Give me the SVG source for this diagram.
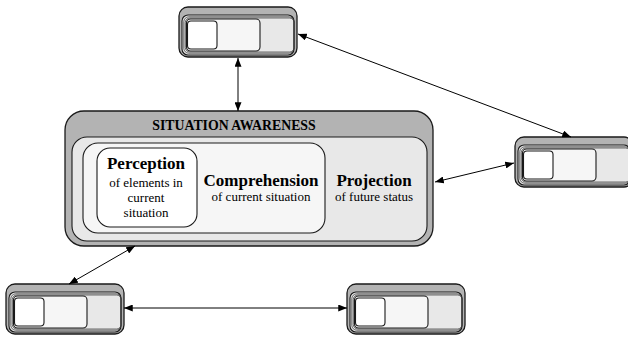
<svg xmlns="http://www.w3.org/2000/svg" width="628" height="338" viewBox="0 0 628 338">
<style>
.o{fill:#b3b3b3;stroke:#1a1a1a;stroke-width:1.3}
.g{fill:#e8e8e8;stroke:#1a1a1a;stroke-width:1.1}
.l{fill:#f6f6f6;stroke:#1a1a1a;stroke-width:1.1}
.w{fill:#ffffff;stroke:#1a1a1a;stroke-width:1.1}
.n{fill:none;stroke:#333;stroke-width:0.7}
.c line{stroke:#000;stroke-width:1}
text{font-family:"Liberation Serif","Times New Roman",serif;fill:#000;text-anchor:middle}
.b{font-weight:bold;font-size:17px}
.s{font-size:13px}
</style>
<defs>
<marker id="a" viewBox="0 0 10 8" refX="10" refY="4" markerWidth="9" markerHeight="7" markerUnits="userSpaceOnUse" orient="auto-start-reverse">
<path d="M0,0L10,4L0,8z" fill="#000"/>
</marker>
<g id="dev">
<rect class="o" x="0" y="0" width="118" height="50" rx="9"/>
<rect class="g" x="3" y="8" width="112" height="40" rx="6"/>
<rect class="n" x="4.8" y="9.8" width="110.2" height="36.4" rx="5"/>
<rect class="n" x="6.3" y="11" width="108.7" height="34" rx="4.5"/>
<rect class="l" x="7.5" y="12" width="73.5" height="32" rx="4"/>
<rect class="w" x="8.5" y="14" width="29.5" height="28" rx="3.5"/>
</g>
</defs>
<g id="node-top"><use href="#dev" x="179" y="7"/></g>
<g id="node-right"><use href="#dev" x="515" y="137"/></g>
<g id="node-bl"><use href="#dev" x="6" y="284"/></g>
<g id="node-br"><use href="#dev" x="347" y="284"/></g>
<g id="sa">
<rect class="o" x="65" y="111" width="368" height="135" rx="19"/>
<rect class="g" x="72" y="137" width="355" height="104" rx="15"/>
<rect class="l" x="83" y="143" width="242" height="90" rx="15"/>
<rect class="w" x="97" y="148" width="100" height="79" rx="13"/>
<text x="234" y="130" font-weight="bold" font-size="13.8px">SITUATION AWARENESS</text>
<text class="b" x="146" y="169">Perception</text>
<text class="s" x="146" y="187">of elements in</text>
<text class="s" x="146" y="202">current</text>
<text class="s" x="146" y="217">situation</text>
<text class="b" x="261" y="186">Comprehension</text>
<text class="s" x="261" y="201">of current situation</text>
<text class="b" x="374" y="186">Projection</text>
<text class="s" x="374" y="201">of future status</text>
</g>
<g id="connectors" class="c">
<line x1="238" y1="58" x2="238" y2="111" marker-start="url(#a)" marker-end="url(#a)"/>
<line x1="298" y1="34" x2="571" y2="137" marker-start="url(#a)" marker-end="url(#a)"/>
<line x1="435" y1="182" x2="514" y2="163" marker-start="url(#a)" marker-end="url(#a)"/>
<line x1="135" y1="246" x2="69" y2="284" marker-start="url(#a)" marker-end="url(#a)"/>
<line x1="124" y1="308" x2="347" y2="308" marker-start="url(#a)" marker-end="url(#a)"/>
</g>
</svg>
